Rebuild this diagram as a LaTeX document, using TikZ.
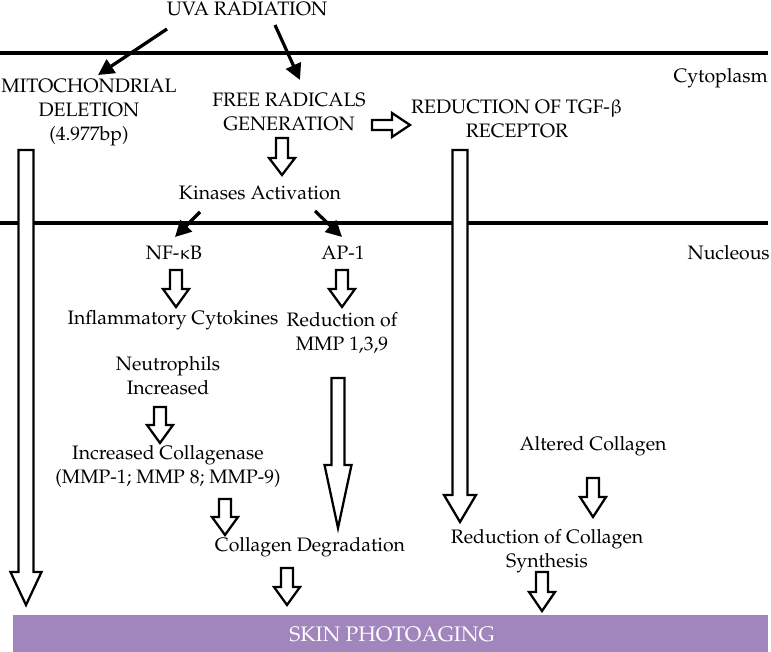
\documentclass[tikz,border=0pt]{standalone}
\usepackage[T1]{fontenc}
\usepackage{mathpazo}
\usepackage{upgreek}
\usetikzlibrary{arrows.meta,calc}

\definecolor{photoviolet}{RGB}{161,133,189}

\tikzset{
	txt/.style={align=center, inner sep=0pt, font=\fontsize{14.6}{18}\selectfont},
	membrane/.style={line width=2.4pt},
	fat/.style={line width=2.4pt, -{Triangle[length=12pt,width=12pt]}},
	hollow/.style={draw, line width=1.7pt, fill=white, line join=miter},
}

% x, top, start of head, tip, half shaft, half head
\newcommand{\blockarrow}[6]{%
	\draw[hollow] (#1-#5,#2) -- (#1+#5,#2) -- (#1+#5,#3) -- (#1+#6,#3)
		-- (#1,#4) -- (#1-#6,#3) -- (#1-#5,#3) -- cycle;}

\begin{document}
\begin{tikzpicture}[x=0.75pt,y=-0.75pt]
	\useasboundingbox (0,0) rectangle (771,652);

	% membranes
	\draw[membrane] (0,53) -- (768,53);
	\draw[membrane] (0,223) -- (768,223);

	\node[txt] (uva) at (247,9) {UVA RADIATION};
	\node[txt] (mito) at (89,113) {MITOCHONDRIAL\\DELETION\\(4.977bp)};
	\node[txt] (radicals) at (289,112) {FREE RADICALS\\GENERATION};
	\node[txt] (tgf) at (517,119) {REDUCTION OF TGF-$\upbeta$\\RECEPTOR};
	\node[txt, anchor=east] (cyto) at (768,78) {Cytoplasm};
	\node[txt] (kinases) at (260,193) {Kinases Activation};
	\node[txt] (nfkb) at (174,253) {NF-$\upkappa$B};
	\node[txt] (ap1) at (343,253) {AP-1};
	\node[txt, anchor=east] (nucleus) at (770,253) {Nucleous};
	\node[txt] (cytokines) at (173,320) {Inflammatory Cytokines};
	\node[txt] (mmp) at (342,333) {Reduction of\\MMP 1,3,9};
	\node[txt] (neutro) at (168,376) {Neutrophils\\Increased};
	\node[txt] (collagenase) at (168,466) {Increased Collagenase\\(MMP-1; MMP 8; MMP-9)};
	\node[txt] (degradation) at (310,547) {Collagen Degradation};
	\node[txt] (altered) at (593,446) {Altered Collagen};
	\node[txt] (synthesis) at (547,551) {Reduction of Collagen\\Synthesis};

	\draw[fat] ($(uva)+(-80,20)$) -- ($(mito)+(9,-38)$);
	\draw[fat] ($(uva)+(28,16)$) -- ($(radicals)+(11,-32)$);
	\draw[fat] ($(kinases)+(-60,19)$) -- ($(nfkb)+(1,-16)$);
	\draw[fat] ($(kinases)+(55,18)$) -- ($(ap1)+(-1,-16)$);

	% long ones
	\blockarrow{26}{150}{572}{605}{7.5}{15.5}
	\blockarrow{460}{150}{495}{522}{7.5}{16}
	\blockarrow{338}{378}{465}{528}{6.5}{13.5}

	% short ones
	\blockarrow{282}{138}{158}{175}{6}{13}
	\blockarrow{176}{270}{289}{307}{6}{13}
	\blockarrow{342}{270}{289}{307}{6}{13}
	\blockarrow{160}{407}{425}{443}{6}{13}
	\blockarrow{225}{499}{517}{535}{6}{13}
	\blockarrow{593}{478}{497}{517}{6}{13}
	\blockarrow{287}{568}{587}{605}{6}{13}
	\blockarrow{542}{572}{592}{611}{6}{13}

	\draw[hollow] (372,120) -- (392,120) -- (392,113) -- (410,125)
		-- (392,137) -- (392,130) -- (372,130) -- cycle;

	\fill[photoviolet] (13,615) rectangle (768,652);
	\node[txt, text=white, font=\fontsize{15.8}{18}\selectfont] (skin) at (392,634) {SKIN PHOTOAGING};
\end{tikzpicture}
\end{document}
